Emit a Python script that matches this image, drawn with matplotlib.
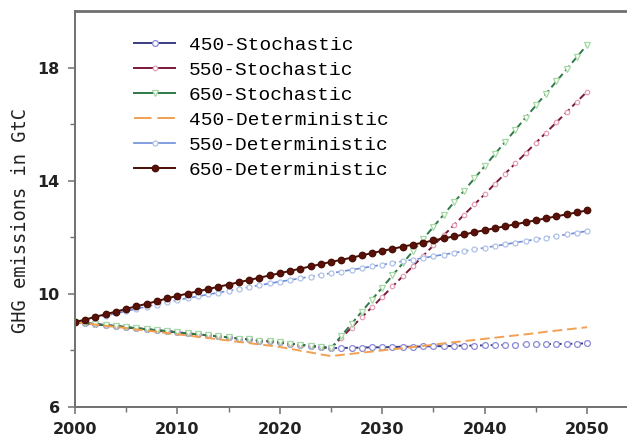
import matplotlib
matplotlib.use("Agg")
import matplotlib.pyplot as plt
from matplotlib.lines import Line2D
import numpy as np

years = np.arange(2000, 2051)

# shared path of the stochastic runs up to 2025
stoch_common = [9.00, 8.96, 8.93, 8.89, 8.86, 8.82, 8.78, 8.75, 8.71, 8.68, 8.64,
                8.60, 8.57, 8.53, 8.50, 8.46, 8.42, 8.39, 8.35, 8.32, 8.28,
                8.24, 8.20, 8.16, 8.12, 8.08]
# branches 2026-2050
stoch_450 = [8.09, 8.09, 8.10, 8.11, 8.11, 8.12, 8.13, 8.13, 8.14, 8.15,
             8.15, 8.16, 8.17, 8.17, 8.18, 8.19, 8.19, 8.20, 8.21, 8.21,
             8.22, 8.23, 8.23, 8.24, 8.25]
stoch_550 = [8.44, 8.81, 9.17, 9.53, 9.89, 10.26, 10.62, 10.98, 11.35, 11.71,
             12.07, 12.43, 12.80, 13.16, 13.52, 13.89, 14.25, 14.61, 14.97, 15.34,
             15.70, 16.06, 16.42, 16.79, 17.15]
stoch_650 = [8.51, 8.94, 9.37, 9.80, 10.22, 10.65, 11.08, 11.51, 11.94, 12.37,
             12.80, 13.23, 13.65, 14.08, 14.51, 14.94, 15.37, 15.80, 16.23, 16.66,
             17.08, 17.51, 17.94, 18.37, 18.80]

det_450 = [9.00, 8.96, 8.91, 8.87, 8.83, 8.79, 8.74, 8.70, 8.66, 8.61, 8.57,
           8.53, 8.48, 8.44, 8.39, 8.35, 8.30, 8.26, 8.21, 8.17, 8.12,
           8.06, 7.99, 7.93, 7.86, 7.80,
           7.84, 7.88, 7.92, 7.96, 8.00, 8.04, 8.08, 8.12, 8.16, 8.20,
           8.25, 8.29, 8.33, 8.37, 8.41, 8.45, 8.49, 8.53, 8.57, 8.61,
           8.66, 8.70, 8.74, 8.78, 8.82]
det_550 = [9.00, 9.08, 9.16, 9.23, 9.31, 9.39, 9.47, 9.55, 9.62, 9.70, 9.78,
           9.85, 9.91, 9.98, 10.04, 10.11, 10.17, 10.24, 10.30, 10.37, 10.43,
           10.49, 10.55, 10.61, 10.67, 10.73, 10.79, 10.85, 10.91, 10.97, 11.03,
           11.09, 11.15, 11.21, 11.27, 11.33, 11.39, 11.45, 11.51, 11.57, 11.63,
           11.69, 11.75, 11.81, 11.87, 11.93, 11.99, 12.04, 12.10, 12.16, 12.22]
det_650 = [9.00, 9.09, 9.19, 9.28, 9.37, 9.47, 9.56, 9.65, 9.74, 9.84, 9.93,
           10.01, 10.09, 10.17, 10.25, 10.33, 10.41, 10.49, 10.57, 10.65, 10.73,
           10.81, 10.89, 10.97, 11.05, 11.13, 11.20, 11.28, 11.36, 11.44, 11.52,
           11.59, 11.67, 11.74, 11.81, 11.89, 11.96, 12.03, 12.10, 12.18, 12.25,
           12.32, 12.39, 12.46, 12.53, 12.60, 12.67, 12.74, 12.81, 12.88, 12.95]

labels = ["450-Stochastic", "550-Stochastic", "650-Stochastic",
          "450-Deterministic", "550-Deterministic", "650-Deterministic"]

fig = plt.figure(figsize=(6.27, 4.38), dpi=100)
ax = fig.add_axes([0.1196, 0.0708, 0.8804, 0.9041])

dash = (0, (3.5, 2))
# stochastic runs (green last so it sits on the common path)
ax.plot(years, stoch_common + stoch_450, color="#3c3c82", lw=1.4, ls=dash,
        marker="o", ms=4.2, mfc="white", mec="#8a8ad6", mew=0.9)
ax.plot(years, stoch_common + stoch_550, color="#7a1838", lw=1.4, ls=dash,
        marker="o", ms=3.2, mfc="white", mec="#e4a0b4", mew=0.9)
ax.plot(years, stoch_common + stoch_650, color="#2e7a48", lw=1.4, ls=dash,
        marker="v", ms=4.2, mfc="white", mec="#a6d8a6", mew=0.9)
# deterministic runs
ax.plot(years, det_450, color="#f2a052", lw=1.4, ls=(0, (5, 2.5)))
ax.plot(years, det_550, color="#6e8cd8", lw=1.2, ls=dash,
        marker="o", ms=3.6, mfc="white", mec="#b0c2ea", mew=0.9)
ax.plot(years, det_650, color="#4a0e06", lw=1.4,
        marker="o", ms=4.6, mfc="#5a1208", mec="#4a0e06")

ax.set_xlim(2000, 2053.9)
ax.set_ylim(6, 20)
ax.set_xticks([2000, 2010, 2020, 2030, 2040, 2050])
ax.set_xticks([2005, 2015, 2025, 2035, 2045], minor=True)
ax.set_yticks([6, 10, 14, 18])
ax.set_yticks([8, 12, 16], minor=True)

for s in ["left", "bottom", "top"]:
    ax.spines[s].set_color("#707070")
    ax.spines[s].set_linewidth(1.4)
ax.spines["top"].set_linewidth(2.0)
ax.spines["right"].set_visible(False)

ax.tick_params(which="major", direction="out", length=5, width=1.1,
               color="#707070", pad=6)
ax.tick_params(which="minor", direction="out", length=3.5, width=1.0,
               color="#707070")
for lab in ax.get_xticklabels() + ax.get_yticklabels():
    lab.set_fontfamily("DejaVu Sans")
    lab.set_fontweight("bold")
    lab.set_fontsize(11.5)
    lab.set_color("#222222")

ax.set_ylabel("GHG emissions in GtC", fontfamily="DejaVu Sans Mono",
              fontsize=13.5, color="#222222")
ax.yaxis.set_label_coords(-0.082, 0.47)

handles = [
    Line2D([], [], color="#3c3c82", lw=1.4, marker="o", ms=4.2, mfc="white",
           mec="#8a8ad6", mew=0.9),
    Line2D([], [], color="#7a1838", lw=1.4, marker="o", ms=3.2, mfc="white",
           mec="#e4a0b4", mew=0.9),
    Line2D([], [], color="#2e7a48", lw=1.4, marker="v", ms=4.2, mfc="white",
           mec="#a6d8a6", mew=0.9),
    Line2D([], [], color="#f2a052", lw=1.4, ls=(0, (9, 3))),
    Line2D([], [], color="#6e8cd8", lw=1.2, marker="o", ms=3.6, mfc="white",
           mec="#b0c2ea", mew=0.9),
    Line2D([], [], color="#4a0e06", lw=1.4, marker="o", ms=4.6,
           mfc="#5a1208", mec="#4a0e06"),
]
ax.legend(handles, labels, loc="upper left", bbox_to_anchor=(0.093, 0.955),
          frameon=False, prop={"family": "Liberation Mono", "size": 14},
          handlelength=2.1, handletextpad=0.7, labelspacing=0.38,
          borderaxespad=0, numpoints=1)

fig.savefig("out.png", dpi=100)
